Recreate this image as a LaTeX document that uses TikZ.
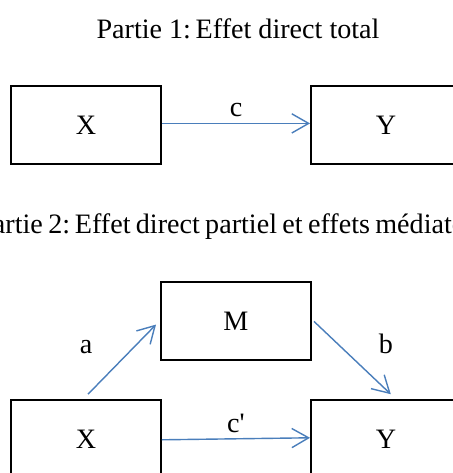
\documentclass[tikz,border=0pt]{standalone}
\usepackage{fontspec}
\setmainfont{Liberation Serif}
\usepackage{tikz}
\usetikzlibrary{positioning,arrows.meta,calc}

\begin{document}
\begin{tikzpicture}[
  >={Straight Barb[length=4.2mm,width=4.8mm]},
  font=\fontsize{20}{24}\selectfont,
  varbox/.style={draw=black,line width=1.4pt,minimum width=3.75cm,minimum height=1.95cm,inner sep=0pt},
  effect/.style={->,draw=linkblue,line width=1pt},
  effectlabel/.style={anchor=base,midway,yshift=.17cm},
  parttitle/.style={anchor=base}
]
\definecolor{linkblue}{RGB}{74,126,187}
\useasboundingbox (0,0) rectangle (11.325,11.825);
% Part 1: total direct effect
\node[parttitle] (title1) at (5.95,10.85) {Partie 1:\,Effet direct total};
\node[varbox] (X1) at (2.15,8.70) {X};
\node[varbox] (Y1) at (9.65,8.70) {Y};
\draw[effect] ($(X1.east)+(0,.04)$) -- node[effectlabel] (c) {c} ($(Y1.west)+(0,.04)$);
% Part 2: partial direct effect and mediated effects
\node[parttitle] (title2) at (5.95,5.975)
  {\spaceskip=.19em\relax Partie 2:\,Effet direct partiel et effets médiateurs};
\node[varbox] (M) at (5.9,3.79) {M};
\node[varbox] (X2) at (2.15,0.85) {X};
\node[varbox] (Y2) at (9.65,0.85) {Y};
\draw[effect] ($(X2.north)+(.05,.12)$) -- ($(M.west)+(-.1,-.08)$);
\draw[effect] ($(M.east)+(.05,0)$) -- ($(Y2.north)+(.12,.12)$);
\draw[effect] ($(X2.east)+(0,-.02)$) -- node[effectlabel] (cp) {c\textquotesingle} ($(Y2.west)+(0,.03)$);
\node[anchor=base] (a) at (2.15,3.0) {a};
\node[anchor=base] (b) at (9.65,3.0) {b};
\end{tikzpicture}
\end{document}
